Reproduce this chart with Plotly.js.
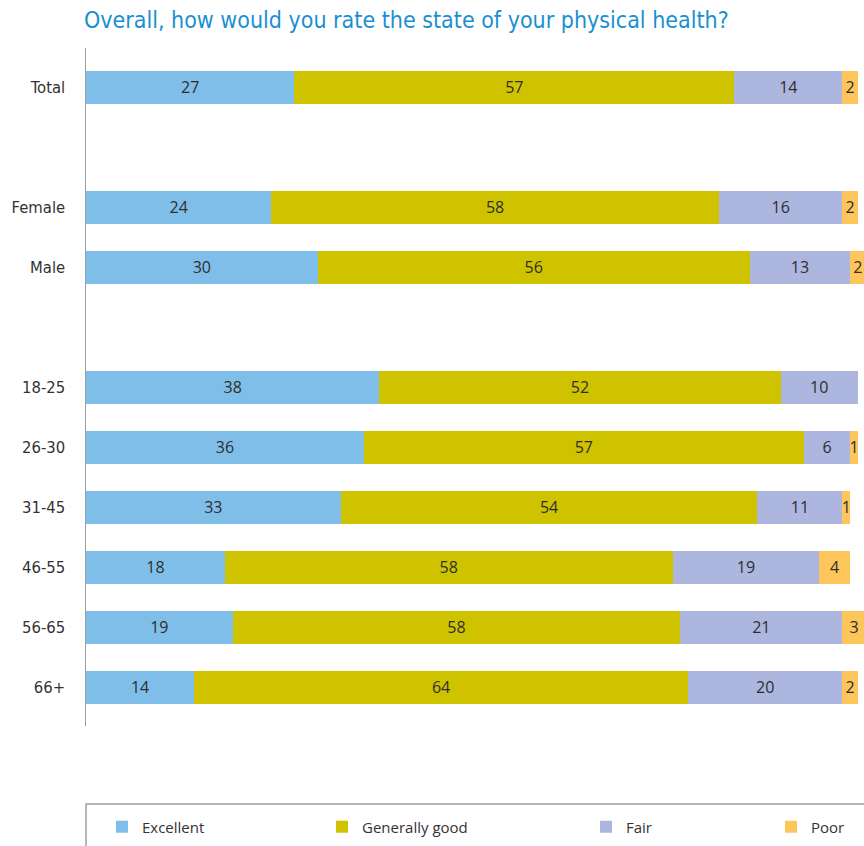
<!DOCTYPE html>
<html>
<head>
<meta charset="utf-8">
<script src="https://cdn.plot.ly/plotly-3.0.1.min.js"></script>
<style>html,body{margin:0;padding:0;background:#fff;}#chart{width:864px;height:846px;}</style>
</head>
<body>
<div id="chart"></div>
<script>
// Categories (top to bottom); blank entries are spacer rows
const categories = ["Total", " ", "Female", "Male", "  ", "18-25", "26-30", "31-45", "46-55", "56-65", "66+"];
const groups = ["Total", "Female", "Male", "18-25", "26-30", "31-45", "46-55", "56-65", "66+"];
const excellent     = [27, 24, 30, 38, 36, 33, 18, 19, 14];
const generallyGood = [57, 58, 56, 52, 57, 54, 58, 58, 64];
const fair          = [14, 16, 13, 10, 6, 11, 19, 21, 20];
const poor          = [2, 2, 2, 0, 1, 1, 4, 3, 2];
const seriesNames   = ["Excellent", "Generally good", "Fair", "Poor"];

const colors = ["#7fbee8", "#cfc300", "#acb6de", "#fec55a"];
const series = [excellent, generallyGood, fair, poor];
const legendIds = ["legend", "legend2", "legend3", "legend4"];
const legendX = [102, 322, 586, 771];

const narrow = "Liberation Sans Narrow, DejaVu Sans Condensed, Arial Narrow, sans-serif";
const body = "Open Sans, Noto Sans, sans-serif";

const traces = series.map((vals, i) => ({
  type: "bar",
  orientation: "h",
  name: seriesNames[i],
  y: groups,
  x: vals,
  text: vals.map(v => v ? String(v) : ""),
  textposition: "inside",
  insidetextanchor: "middle",
  constraintext: "none",
  textfont: {family: body, size: 16, color: "#2e2e2e"},
  marker: {color: colors[i], line: {width: 0}},
  legend: legendIds[i],
  hoverinfo: "skip"
}));

const layout = {
  width: 864, height: 846,
  margin: {l: 86, r: 0, t: 48, b: 120},
  paper_bgcolor: "#fff", plot_bgcolor: "#fff",
  barmode: "stack",
  bargap: 0.45,
  showlegend: true,
  hovermode: false,
  title: {
    text: "Overall, how would you rate the state of your physical health?",
    font: {family: narrow, size: 23, color: "#1a8fd0"},
    x: 84/864, xanchor: "left", xref: "container",
    y: 1 - 20/846, yanchor: "middle", yref: "container"
  },
  xaxis: {range: [0, 100.8], visible: false, fixedrange: true},
  yaxis: {
    type: "category",
    categoryorder: "array",
    categoryarray: categories,
    range: [10.65, -0.65],
    showline: true, linecolor: "#9a9f9f", linewidth: 1.5,
    showgrid: false, zeroline: false,
    ticks: "outside", ticklen: 16, tickcolor: "rgba(0,0,0,0)",
    tickfont: {family: narrow, size: 16.5, color: "#333"},
    fixedrange: true
  },
  shapes: [{
    type: "rect", xref: "paper", yref: "paper",
    x0: 0, x1: 1.02, y0: -(804 - 726) / 678, y1: -(860 - 726) / 678,
    line: {color: "#9aa3a3", width: 1.5}, fillcolor: "rgba(0,0,0,0)"
  }]
};
legendIds.forEach((id, i) => {
  layout[id] = {
    xref: "container", yref: "container",
    x: legendX[i] / 864, xanchor: "left",
    y: 1 - 827 / 846, yanchor: "middle",
    orientation: "h",
    bgcolor: "rgba(0,0,0,0)",
    font: {family: body, size: 15, color: "#333"}
  };
});

Plotly.newPlot("chart", traces, layout, {displayModeBar: false, staticPlot: true});
</script>
</body>
</html>
